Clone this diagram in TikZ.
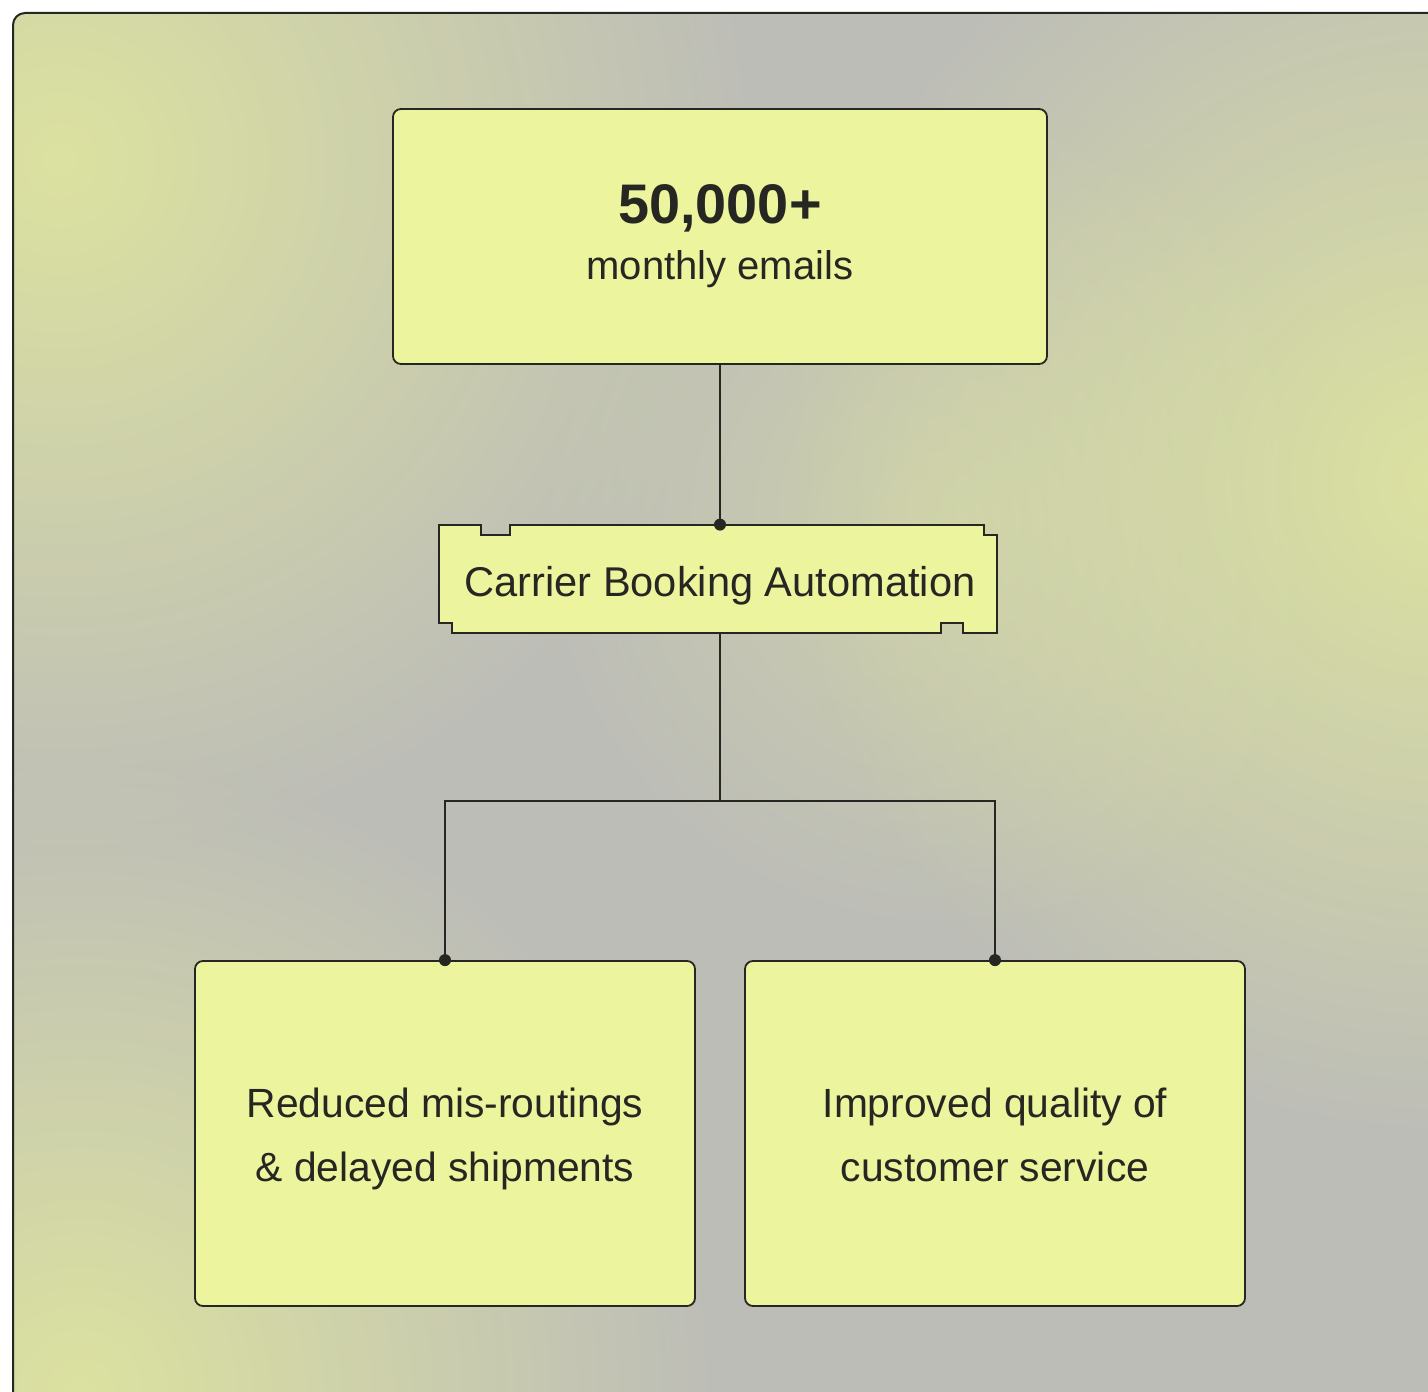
\documentclass[tikz,border=0pt]{standalone}
\usepackage{fontspec}
\setmainfont{Liberation Sans}
\usetikzlibrary{fadings}
\tikzfading[name=softblob, inner color=transparent!0, outer color=transparent!100]
\definecolor{bg}{RGB}{189,189,184}
\definecolor{yel}{RGB}{220,226,160}
\definecolor{boxfill}{RGB}{236,244,157}
\definecolor{ink}{RGB}{38,38,34}
\begin{document}
\begin{tikzpicture}[x=0.5pt,y=-0.5pt,
  box/.style={draw=ink, line width=0.9pt, fill=boxfill, rounded corners=4pt, inner sep=0pt},
  conn/.style={draw=ink, line width=0.9pt},
  dotnode/.style={circle, fill=ink, inner sep=0pt, minimum size=6pt},
  txt/.style={inner sep=0pt, anchor=base, text=ink},
  body/.style={txt, font=\fontsize{20.4}{24}\selectfont},
  blob/.style={fill=yel, path fading=softblob}]
\useasboundingbox (0,0) rectangle (1428,1391);
\fill[white] (-20,-20) rectangle (1448,1411);
\begin{scope}
  \clip[rounded corners=6pt] (13,13) rectangle (1500,1500);
  \fill[bg] (0,0) rectangle (1500,1500);
  \fill[blob] (60,160) circle (700);
  \fill[blob] (1440,480) circle (660);
  \fill[blob] (80,1391) circle (640);
  \fill[blob, opacity=0.5] (950,520) circle (420);
\end{scope}
\draw[ink, line width=1pt, rounded corners=6pt] (13,1500) -- (13,13) -- (1500,13);

% top box
\node[box, minimum width=327pt, minimum height=127.5pt] (top) at (720,236.5) {};
\node[txt, font=\fontsize{27.9}{32}\selectfont\bfseries] (n50) at (720,224) {50,000+};
\node[txt, font=\fontsize{20}{24}\selectfont] (monthly) at (720,279) {monthly emails};

% middle notched box
\node[inner sep=0pt, minimum width=279pt, minimum height=54pt] (mid) at (718,579) {};
\draw[ink, line width=0.9pt, fill=boxfill]
  (439,525) -- (481,525) -- (481,535) -- (510,535) -- (510,525) -- (984,525)
  -- (984,535) -- (997,535) -- (997,633) -- (963,633) -- (963,623) -- (941,623)
  -- (941,633) -- (452,633) -- (452,623) -- (439,623) -- cycle;
\node[txt, font=\fontsize{20.8}{24}\selectfont] (midtxt) at (720,596) {Carrier Booking Automation};

% bottom boxes
\node[box, minimum width=250pt, minimum height=172.5pt] (bl) at (445,1133.5) {};
\node[box, minimum width=250pt, minimum height=172.5pt] (br) at (995,1133.5) {};
\node[body] (bl1) at (445,1117) {Reduced mis-routings};
\node[body] (bl2) at (445,1181) {\& delayed shipments};
\node[body] (br1) at (995,1117) {Improved quality of};
\node[body] (br2) at (995,1181) {customer service};

% connectors
\coordinate (split) at (720,801);
\draw[conn] (top.south) -- (top.south |- mid.north) node[dotnode] (d0) {};
\draw[conn] (split |- mid.south) -- (split);
\draw[conn] (split) -| (bl.north) node[dotnode] (d1) {};
\draw[conn] (split) -| (br.north) node[dotnode] (d2) {};
\end{tikzpicture}
\end{document}
